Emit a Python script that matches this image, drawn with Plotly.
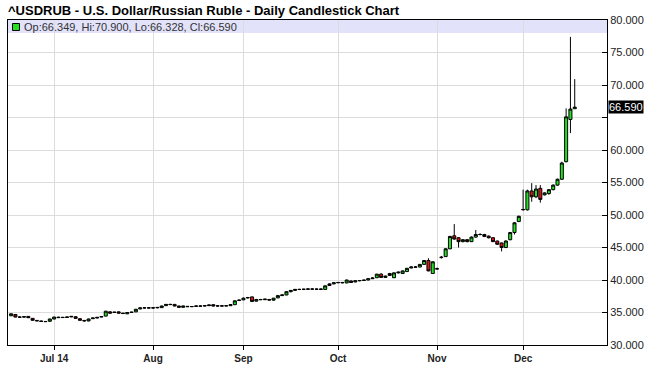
import pandas as pd
import plotly.graph_objects as go

# ---- data ----
dates = [d.strftime("%Y-%m-%d") for d in pd.bdate_range("2014-06-17", "2014-12-17")]

opens = [34.50, 34.70, 34.30, 34.30, 34.40, 34.10, 33.78, 33.70, 33.62, 33.65,
         34.00, 34.28, 34.22, 34.25, 34.32, 34.35, 34.05, 33.78, 33.70, 34.05,
         34.15, 34.30, 34.45, 35.10, 35.00, 35.10, 34.90, 34.80, 35.00, 35.10,
         35.55, 35.70, 35.72, 35.70, 35.72, 35.75, 36.05, 36.25, 36.25, 36.00,
         35.80, 35.95, 35.90, 35.95, 36.00, 36.00, 36.05, 36.20, 36.00, 36.02,
         36.00, 36.05, 36.20, 36.85, 36.95, 37.25, 37.40, 36.75, 37.00, 36.98,
         37.00, 36.90, 37.25, 37.60, 37.70, 38.20, 38.40, 38.55, 38.55, 38.58,
         38.62, 38.60, 38.55, 38.55, 39.15, 39.40, 39.58, 39.62, 39.55, 39.85,
         39.70, 39.88, 39.92, 40.00, 40.20, 40.35, 40.90, 40.40, 41.00, 40.35,
         41.10, 41.00, 41.30, 41.85, 42.00, 42.00, 42.40, 43.00, 41.00, 41.75,
         43.45, 43.60, 44.80, 46.80, 46.50, 45.90, 46.20, 45.90, 46.60, 47.00,
         47.00, 46.75, 46.50, 46.00, 45.70, 45.00, 46.20, 47.30, 49.00, 50.80,
         50.80, 53.70, 52.80, 54.10, 53.10, 53.30, 53.90, 54.60, 55.50, 58.20,
         64.70, 66.349]
highs = [34.85, 34.75, 34.40, 34.40, 34.45, 34.15, 33.85, 33.75, 33.70, 34.05,
         34.35, 34.35, 34.30, 34.35, 34.45, 34.42, 34.10, 33.85, 34.05, 34.20,
         34.30, 34.40, 35.25, 35.20, 35.10, 35.15, 34.95, 35.05, 35.10, 35.55,
         35.80, 35.80, 35.85, 35.80, 35.85, 36.05, 36.30, 36.35, 36.30, 36.05,
         36.05, 36.00, 36.00, 36.05, 36.10, 36.10, 36.20, 36.25, 36.10, 36.10,
         36.12, 36.30, 36.85, 37.00, 37.30, 37.40, 37.45, 37.10, 37.10, 37.10,
         37.10, 37.25, 37.70, 37.75, 38.25, 38.45, 38.60, 38.65, 38.65, 38.70,
         38.70, 38.70, 38.70, 39.15, 39.50, 39.65, 39.70, 39.70, 40.05, 39.95,
         39.95, 40.00, 40.05, 40.25, 40.40, 40.95, 41.05, 40.65, 41.10, 41.15,
         41.30, 41.45, 41.85, 42.10, 42.15, 42.45, 43.05, 43.35, 42.85, 41.90,
         43.70, 44.90, 46.80, 48.60, 46.60, 46.30, 46.30, 46.70, 47.70, 47.20,
         47.10, 46.85, 46.60, 46.05, 45.75, 46.10, 47.40, 48.90, 49.90, 53.90,
         53.90, 54.90, 54.60, 54.60, 53.50, 54.00, 54.70, 55.60, 58.20, 66.40,
         77.40, 70.900]
lows = [34.45, 34.25, 34.20, 34.22, 34.15, 33.75, 33.65, 33.55, 33.55, 33.60,
        33.95, 34.15, 34.15, 34.20, 34.28, 34.05, 33.75, 33.55, 33.65, 34.00,
        34.10, 34.25, 34.40, 34.85, 34.95, 34.85, 34.75, 34.75, 34.95, 35.05,
        35.50, 35.60, 35.60, 35.60, 35.65, 35.70, 36.00, 36.15, 35.95, 35.75,
        35.75, 35.85, 35.82, 35.90, 35.90, 35.92, 36.00, 35.95, 35.92, 35.95,
        35.95, 36.00, 36.15, 36.75, 36.90, 37.15, 36.65, 36.70, 36.90, 36.90,
        36.85, 36.85, 37.20, 37.55, 37.65, 38.10, 38.30, 38.45, 38.45, 38.50,
        38.50, 38.50, 38.45, 38.50, 39.10, 39.35, 39.50, 39.50, 39.50, 39.55,
        39.65, 39.80, 39.85, 39.95, 40.15, 40.30, 40.35, 40.30, 40.65, 40.30,
        41.00, 40.95, 41.25, 41.80, 41.85, 41.95, 42.35, 41.35, 40.95, 41.65,
        43.30, 43.55, 44.75, 46.20, 45.00, 45.80, 45.80, 45.85, 46.50, 46.85,
        46.60, 46.40, 45.85, 45.40, 44.40, 44.90, 46.10, 47.00, 48.90, 50.70,
        50.70, 52.05, 52.60, 51.90, 53.00, 53.10, 53.80, 54.50, 55.40, 58.10,
        62.60, 66.328]
closes = [34.80, 34.30, 34.28, 34.35, 34.20, 33.80, 33.72, 33.62, 33.60, 34.00,
          34.30, 34.22, 34.25, 34.30, 34.40, 34.10, 33.80, 33.72, 34.00, 34.15,
          34.25, 34.38, 35.20, 34.90, 35.05, 34.90, 34.85, 35.00, 35.05, 35.50,
          35.70, 35.72, 35.70, 35.72, 35.78, 36.00, 36.25, 36.22, 36.00, 35.80,
          36.00, 35.90, 35.92, 36.00, 35.98, 36.05, 36.15, 36.00, 36.02, 36.00,
          36.05, 36.20, 36.80, 36.90, 37.20, 37.30, 36.70, 37.00, 36.98, 37.05,
          36.92, 37.20, 37.60, 37.70, 38.20, 38.40, 38.55, 38.55, 38.58, 38.62,
          38.60, 38.58, 38.60, 39.10, 39.40, 39.58, 39.62, 39.58, 40.00, 39.62,
          39.88, 39.92, 39.98, 40.20, 40.30, 40.90, 40.40, 40.60, 40.70, 41.10,
          41.20, 41.40, 41.80, 42.00, 41.98, 42.40, 43.00, 41.40, 42.80, 41.70,
          43.50, 44.80, 46.70, 46.30, 45.90, 46.20, 45.90, 46.60, 47.00, 47.00,
          46.70, 46.50, 45.90, 45.50, 45.00, 46.00, 47.30, 48.80, 49.80, 50.85,
          53.70, 52.80, 54.00, 52.40, 53.40, 53.90, 54.60, 55.50, 58.00, 65.10,
          66.30, 66.590]

tick_dates = ["2014-07-01", "2014-08-01", "2014-09-01", "2014-10-01", "2014-11-03", "2014-12-01"]
tick_labels = ["Jul 14", "Aug", "Sep", "Oct", "Nov", "Dec"]
y_ticks = [30, 35, 40, 45, 50, 55, 60, 65, 70, 75, 80]
hidden_y_tick = 65  # covered by the last-price marker in the reference

title_text = "^USDRUB - U.S. Dollar/Russian Ruble - Daily Candlestick Chart"
last = dict(o=opens[-1], h=highs[-1], l=lows[-1], c=closes[-1])
legend_text = "Op:%.3f, Hi:%.3f, Lo:%.3f, Cl:%.3f" % (last["o"], last["h"], last["l"], last["c"])

GREEN = "#22e022"
RED = "#e01212"
FONT = "Liberation Sans, Arial, sans-serif"

W, H = 648, 366
ML, MR, MT, MB = 8, 41, 20, 21
PW, PH = W - ML - MR, H - MT - MB


def px(x):
    return (x - ML) / PW


def py(y):
    return 1 - (y - MT) / PH


fig = go.Figure(go.Candlestick(
    x=dates, open=opens, high=highs, low=lows, close=closes,
    increasing=dict(line=dict(color="black", width=1), fillcolor=GREEN),
    decreasing=dict(line=dict(color="black", width=1), fillcolor=RED),
    whiskerwidth=0, hoverinfo="skip", showlegend=False,
))

n = len(dates)
fig.update_layout(
    width=W, height=H,
    margin=dict(l=ML, r=MR, t=MT, b=MB, pad=0, autoexpand=False),
    paper_bgcolor="white", plot_bgcolor="white",
    font=dict(family=FONT, size=11, color="#222"),
    boxgap=0.0,
    showlegend=False,
    xaxis=dict(
        type="category", range=[-0.72, n - 1 + 7.5], automargin=False,
        tickmode="array", tickvals=tick_dates, ticktext=tick_labels,
        tickfont=dict(family=FONT, size=10, color="#222", weight="bold"),
        ticks="outside", ticklen=4, tickcolor="black",
        showgrid=True, gridcolor="#dcdcdc", gridwidth=1,
        showline=True, linecolor="black", linewidth=1, mirror=True,
        rangeslider=dict(visible=False), zeroline=False,
    ),
    yaxis=dict(
        side="right", range=[30, 80], automargin=False,
        tickmode="array", tickvals=y_ticks,
        ticktext=["" if v == hidden_y_tick else "%.3f" % v for v in y_ticks],
        ticks="inside", ticklen=5, tickcolor="black",
        tickfont=dict(family=FONT, size=11, color="#222"),
        showgrid=True, gridcolor="#dcdcdc", gridwidth=1,
        showline=True, linecolor="black", linewidth=1, mirror=True,
        zeroline=False,
    ),
    shapes=[
        dict(type="rect", xref="paper", yref="paper", x0=0, x1=1,
             y0=py(33), y1=1, fillcolor="#e2e2fa", line=dict(width=0), layer="below"),
        dict(type="rect", xref="paper", yref="paper", x0=px(12.5), x1=px(19.5),
             y0=py(30.5), y1=py(23.5), fillcolor=GREEN, line=dict(color="black", width=1)),
    ],
    annotations=[
        dict(text="<b>" + title_text + "</b>", xref="paper", yref="paper",
             x=px(6), y=py(10), xanchor="left", yanchor="middle", showarrow=False,
             font=dict(family=FONT, size=13, color="black")),
        dict(text=legend_text, xref="paper", yref="paper",
             x=px(22), y=py(27), xanchor="left", yanchor="middle", showarrow=False,
             font=dict(family=FONT, size=11, color="#333")),
        dict(text="%.3f" % closes[-1], xref="paper", yref="y", x=1, y=closes[-1],
             xanchor="left", yanchor="middle", xshift=1, showarrow=False,
             bgcolor="black", borderpad=0,
             font=dict(family=FONT, size=11, color="white")),
    ],
)

fig.write_html("out.html",
               config={"displayModeBar": False},
               post_script="document.body.style.margin='0';document.body.style.overflow='hidden';")
